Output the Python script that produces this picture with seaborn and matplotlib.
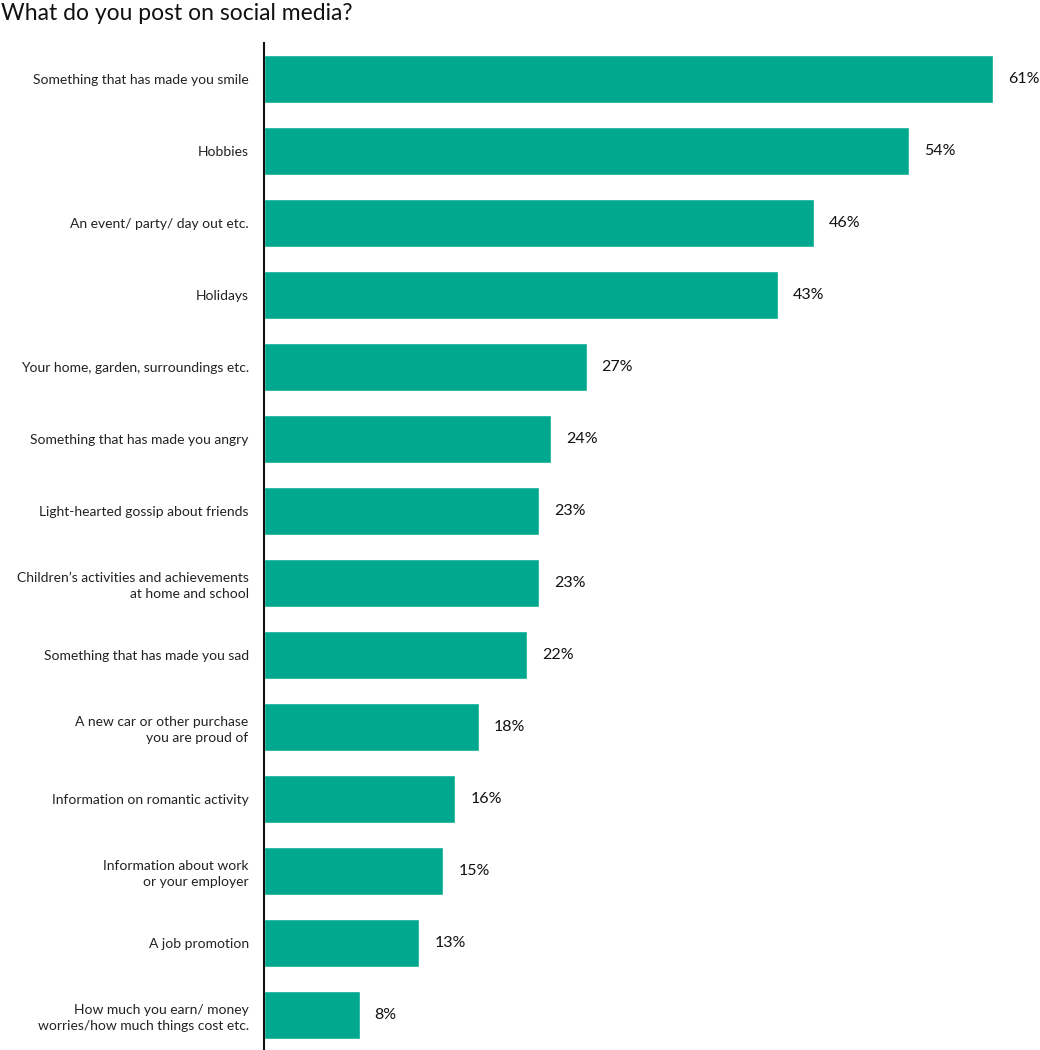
import matplotlib
matplotlib.use("Agg")
import matplotlib.pyplot as plt
import seaborn as sns
import pandas as pd

categories = [
    "Something that has made you smile",
    "Hobbies",
    "An event/ party/ day out etc.",
    "Holidays",
    "Your home, garden, surroundings etc.",
    "Something that has made you angry",
    "Light-hearted gossip about friends",
    "Children\u2019s activities and achievements\nat home and school",
    "Something that has made you sad",
    "A new car or other purchase\nyou are proud of",
    "Information on romantic activity",
    "Information about work\nor your employer",
    "A job promotion",
    "How much you earn/ money\nworries/how much things cost etc.",
]
values = [61, 54, 46, 43, 27, 24, 23, 23, 22, 18, 16, 15, 13, 8]
value_labels = ["61%", "54%", "46%", "43%", "27%", "24%", "23%", "23%", "22%", "18%", "16%", "15%", "13%", "8%"]
title = "What do you post on social media?"

sns.set_theme(style="white")
plt.rcParams['font.family'] = ['Lato', 'DejaVu Sans']

df = pd.DataFrame({"category": categories, "value": values})

W, H = 1040, 1050
fig = plt.figure(figsize=(W / 100, H / 100), dpi=100)
ax = fig.add_axes([264 / W, 1 - 1051 / H, (W - 264) / W, 1008 / H])

sns.barplot(data=df, y="category", x="value", orient="h", color="#00A88E",
            saturation=1, width=0.67, ax=ax)

px_per_unit = (993 - 264) / 61
ax.set_xlim(0, (W - 264) / px_per_unit)
ax.set_ylim(13.5, -0.5)

for i, (v, lab) in enumerate(zip(values, value_labels)):
    ax.text(v + 15 / px_per_unit, i, lab, va="center", ha="left", fontsize=11.5, color="#111111")

ax.set_xlabel("")
ax.set_ylabel("")
ax.set_xticks([])
ax.tick_params(axis="y", length=0, pad=11, labelsize=10, labelcolor="#222222")
for lbl in ax.get_yticklabels():
    lbl.set_horizontalalignment("right")
    lbl.set_linespacing(1.35)
for s in ["top", "right", "bottom"]:
    ax.spines[s].set_visible(False)
ax.spines["left"].set_color("#111111")
ax.spines["left"].set_linewidth(1.5)

fig.text(1 / W, 1 - 14 / H, title, ha="left", va="center", fontsize=16.5, color="#111111")

fig.savefig("out.png", dpi=100)
